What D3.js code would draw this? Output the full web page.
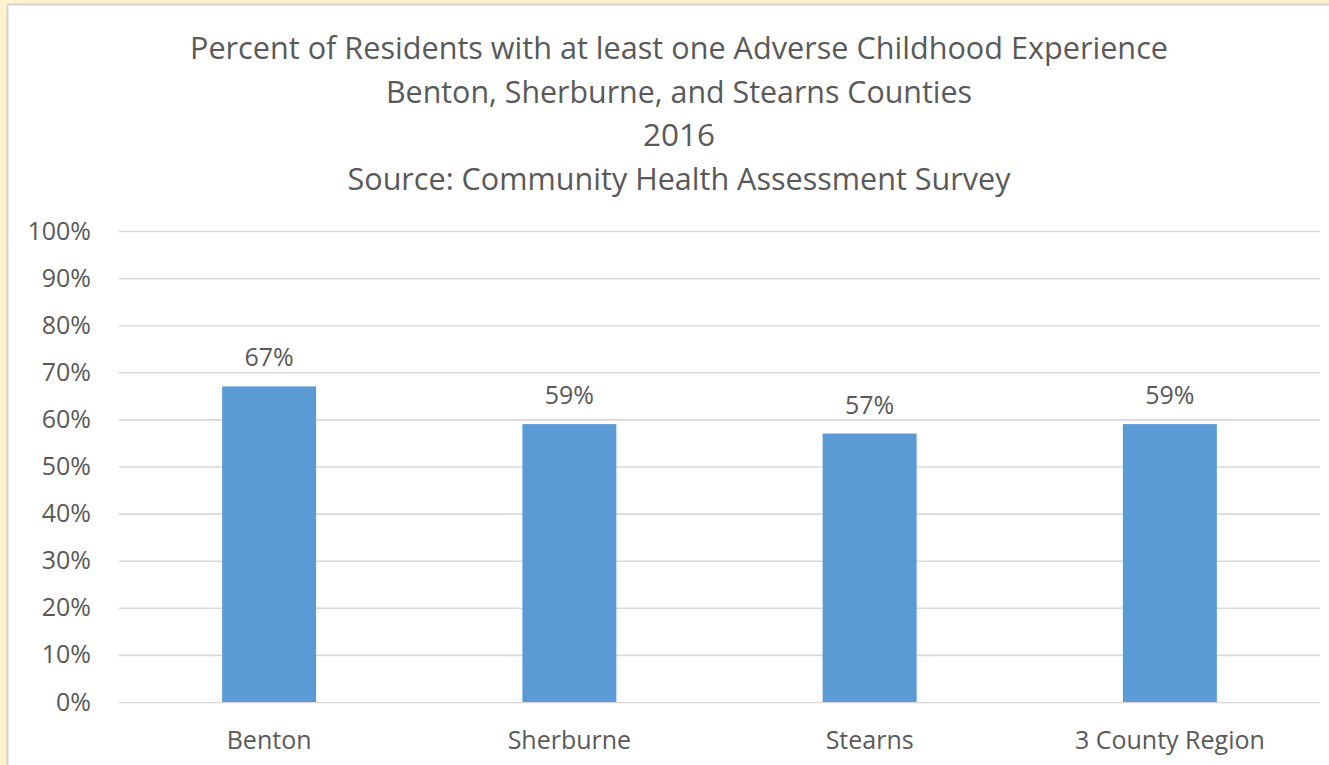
<!DOCTYPE html>
<html>
<head>
<meta charset="utf-8">
<script src="https://cdn.jsdelivr.net/npm/d3@7"></script>
<style>
  html, body { margin: 0; padding: 0; background: #fff2cc; }
  svg { display: block; }
  text { font-family: "Open Sans", "Noto Sans", sans-serif; fill: #595959; }
</style>
</head>
<body>
<svg id="chart" width="1329" height="765"></svg>
<script>
// Share of residents reporting at least one adverse childhood experience
const categories = ["Benton", "Sherburne", "Stearns", "3 County Region"];
const values = [67, 59, 57, 59];
const yTicks = [0, 10, 20, 30, 40, 50, 60, 70, 80, 90, 100];
const titleLines = [
  "Percent of Residents with at least one Adverse Childhood Experience",
  "Benton, Sherburne, and Stearns Counties",
  "2016",
  "Source: Community Health Assessment Survey"
];

const W = 1329, H = 765;
const svg = d3.select("#chart");

// chart panel with thin grey frame on the pale yellow page
svg.append("rect")
  .attr("x", 7.5).attr("y", 4.5)
  .attr("width", W).attr("height", H)
  .attr("fill", "#ffffff")
  .attr("stroke", "#d4d4d4")
  .attr("stroke-width", 2);

// title block
const titleWidths = [978, 586, 72, 663];
const titleBase = [59, 103, 146, 190];
svg.append("g").selectAll("text")
  .data(titleLines)
  .join("text")
  .attr("x", 679)
  .attr("y", (d, i) => titleBase[i])
  .attr("text-anchor", "middle")
  .attr("font-size", 31)
  .attr("textLength", (d, i) => titleWidths[i])
  .attr("lengthAdjust", "spacingAndGlyphs")
  .text(d => d);

// plot area
const plotLeft = 119, plotRight = 1320, plotTop = 231, plotBottom = 702;

const x = d3.scaleBand()
  .domain(categories)
  .range([plotLeft, plotRight])
  .paddingInner(0.687)
  .paddingOuter(0.3435);

const y = d3.scaleLinear()
  .domain([0, 100])
  .range([plotBottom, plotTop]);

// horizontal gridlines + percentage labels
const yAxis = svg.append("g")
  .attr("transform", `translate(${plotLeft},0)`)
  .call(d3.axisLeft(y)
    .tickValues(yTicks)
    .tickFormat(d => d + "%")
    .tickSize(-(plotRight - plotLeft))
    .tickPadding(28));
yAxis.select(".domain").remove();
yAxis.selectAll(".tick line")
  .attr("stroke", "#d9d9d9")
  .attr("stroke-width", 1.6);
yAxis.selectAll(".tick text")
  .attr("font-size", 25)
  .attr("fill", "#595959")
  .style("font-family", "'Open Sans', sans-serif");

// bars
svg.append("g").selectAll("rect")
  .data(values)
  .join("rect")
  .attr("x", (d, i) => x(categories[i]))
  .attr("y", d => y(d))
  .attr("width", x.bandwidth())
  .attr("height", d => y(0) - y(d))
  .attr("fill", "#5b9bd5");

// value labels above bars
svg.append("g").selectAll("text")
  .data(values)
  .join("text")
  .attr("x", (d, i) => x(categories[i]) + x.bandwidth() / 2)
  .attr("y", d => y(d) - 20)
  .attr("text-anchor", "middle")
  .attr("font-size", 25)
  .text(d => d + "%");

// category axis
const xAxis = svg.append("g")
  .attr("transform", `translate(0,${plotBottom})`)
  .call(d3.axisBottom(x).tickSize(0).tickPadding(29));
xAxis.select(".domain").remove();
xAxis.selectAll(".tick text")
  .attr("font-size", 25)
  .attr("fill", "#595959")
  .style("font-family", "'Open Sans', sans-serif");
</script>
</body>
</html>
